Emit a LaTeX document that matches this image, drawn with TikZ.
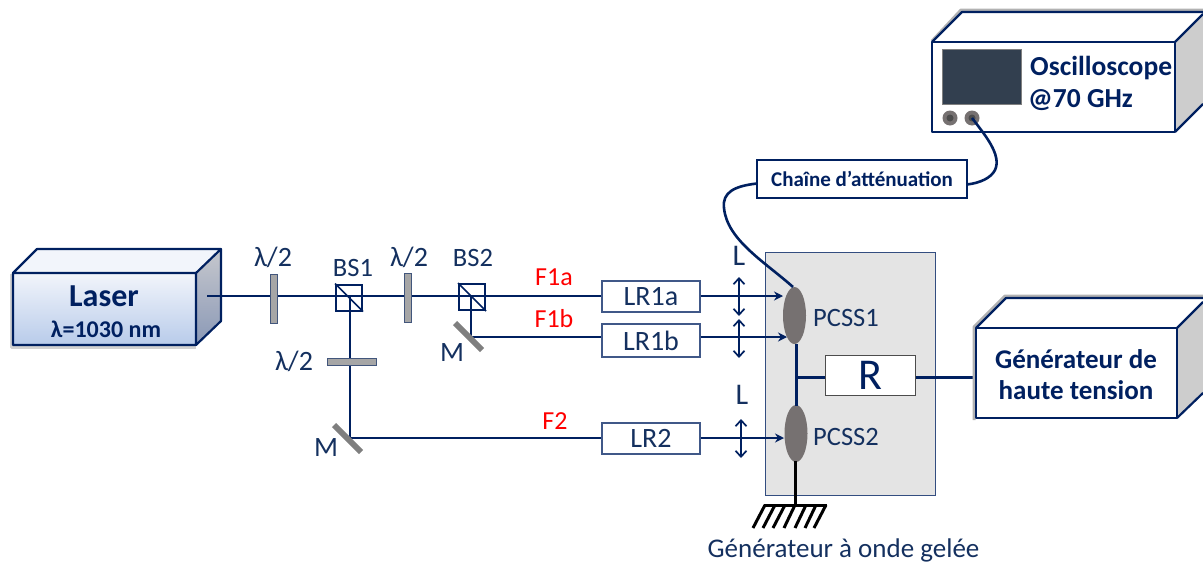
\documentclass[tikz,border=0pt]{standalone}
\usepackage{fontspec}
\setmainfont{Carlito}
\usetikzlibrary{arrows.meta,calc,shapes.geometric}
\definecolor{navy}{HTML}{002060}
\definecolor{txtblue}{HTML}{14305F}
\definecolor{plate}{HTML}{A6A6A6}
\definecolor{mirror}{HTML}{7F7F7F}
\definecolor{pcss}{HTML}{767171}
\definecolor{panel}{HTML}{E4E4E4}
\definecolor{screen}{HTML}{323F4F}
\definecolor{side}{HTML}{CDCDCD}
\definecolor{lasertop}{HTML}{F2F5FB}
\definecolor{laserbot}{HTML}{B8CBEA}
\definecolor{sidetop}{HTML}{C6C8CD}
\definecolor{sidebot}{HTML}{8A98B6}
\tikzset{
  x=1pt,y=-1pt,
  beam/.style={draw=navy,line width=2pt},
  wire/.style={draw=navy,line width=3pt},
  cable/.style={draw=navy,line width=2.6pt},
  gnd/.style={draw=black,line width=3pt},
  lab/.style={text=txtblue,font=\fontsize{26.5}{26.5}\selectfont,inner sep=0pt},
  redlab/.style={text=red,font=\fontsize{26}{26}\selectfont,inner sep=0pt},
  lrbox/.style={draw=navy!75,line width=1.1pt,fill=white,minimum width=98pt,minimum height=31pt,inner sep=0pt,text=txtblue,font=\fontsize{28}{28}\selectfont},
  cube/.style={draw=navy,line width=2pt,minimum size=26pt,inner sep=0pt},
  waveplate/.style={draw=navy!60!plate,line width=.8pt,fill=plate,inner sep=0pt},
  mirrorbar/.style={draw=mirror,line width=6pt},
  boxline/.style={draw=navy,line width=2.2pt,line join=round},
  edgeshadow/.style={draw=black!35,line width=3pt,line join=round},
  bold/.style={text=navy,font=\bfseries\fontsize{27}{27}\selectfont,inner sep=0pt},
  lens/.style={draw=navy,line width=1.7pt,{Straight Barb[length=6pt,width=11pt]}-{Straight Barb[length=6pt,width=11pt]}},
  tohead/.style={-{Stealth[length=9pt,width=9pt]}},
  elli/.style={ellipse,fill=pcss,inner sep=0pt,minimum width=23pt,minimum height=57pt}
}
\begin{document}
\begin{tikzpicture}
\useasboundingbox (0,0) rectangle (1203,565);
% panel
\node[draw=navy!80,line width=.9pt,fill=panel,minimum width=170pt,minimum height=243pt,inner sep=0pt] (panelbox) at (850,373.5) {};
% Laser
\draw[edgeshadow,draw=black!18] (11,274) -- (11,347.5) -- (196,347.5);
\fill[lasertop] (13,273) -- (37,249) -- (221,249) -- (196,273) -- cycle;
\shade[top color=lasertop,bottom color=laserbot] (13,273) rectangle (196,345);
\shade[top color=sidetop,bottom color=sidebot] (196,273) -- (221,249) -- (221,321) -- (196,345) -- cycle;
\draw[boxline] (13,273) rectangle (196,345) (13,273) -- (37,249) -- (221,249) -- (196,273) (221,249) -- (221,321) -- (196,345);
\node[bold,font=\bfseries\fontsize{32}{32}\selectfont] (laser) at (104,296) {Laser};
\node[bold,font=\bfseries\fontsize{24}{24}\selectfont] (lambda) at (106,329) {λ=1030 nm};
% coordinates
\coordinate (laserout) at (207,296);
\coordinate (bs1c) at (350,296);
\coordinate (bs2c) at (471,296);
\coordinate (m1) at (350,438);
\coordinate (m2) at (471,337);
\node[lrbox] (lr1a) at (651,296.5) {LR1a};
\node[lrbox,minimum height=33pt] (lr1b) at (651,340.5) {LR1b};
\node[lrbox] (lr2) at (651,438.5) {LR2};
\node[elli] (p1) at (794.5,315.5) {};
\node[elli] (p2) at (796,433.5) {};
\node[draw=black!70,line width=1pt,fill=white,minimum width=90pt,minimum height=40pt,inner sep=0pt,text=navy,font=\fontsize{44}{44}\selectfont] (R) at (870,375) {R};
% beams
\draw[beam] (laserout) -- (lr1a.west |- laserout);
\draw[beam] (bs1c) -- (m1) -- (lr2.west |- m1);
\draw[beam] (bs2c) -- (m2) -- (lr1b.west |- m2);
\node[waveplate,minimum width=7pt,minimum height=49pt] (hw1) at (273.5,298.5) {};
\node[waveplate,minimum width=7pt,minimum height=49pt] (hw2) at (407.5,297.5) {};
\node[waveplate,minimum width=49pt,minimum height=7pt] (hw3) at (351.5,361.5) {};
\node[cube] (bs1) at (349,297.5) {};
\node[cube] (bs2) at (472,297) {};
\draw[line width=1.7pt,navy] (bs1.north west) -- (bs1.south east);
\draw[line width=1.7pt,navy] (bs2.north west) -- (bs2.south east);
\draw[mirrorbar] (334,425) -- (361,452);
\draw[mirrorbar] (455,323) -- (482,350);
% beams to pcss
\draw[beam,tohead] (lr1a.east |- laserout) -- (783,296);
\draw[beam,tohead] (lr1b.east |- m2) -- (787,337);
\draw[beam,tohead] (lr2.east |- m1) -- (784,438);
% lenses
\coordinate (l1t) at (739,277); \coordinate (l1b) at (739,316);
\coordinate (l2t) at (739,319); \coordinate (l2b) at (739,358);
\coordinate (l3t) at (741,419); \coordinate (l3b) at (741,458);
\draw[lens] (l1t) -- (l1b);
\draw[lens] (l2t) -- (l2b);
\draw[lens] (l3t) -- (l3b);
% electrical
\draw[wire] (796,344) -- (796,406);
\draw[wire] (796,377) -- (R.west |- 0,377);
\draw[wire] (R.east |- 0,377) -- (976,377);
\draw[gnd] (795,461) -- (795,505);
\draw[gnd] (764,505) -- (827,505);
\foreach \xa/\xb in {765/753,775/763,785/773,795/784,806/795,816/805,826/814}{
  \draw[gnd] (\xa,505) -- (\xb,528);
}
% labels
\node[lab,font=\fontsize{28}{28}\selectfont] (t1) at (273,257) {λ/2};
\node[lab] (t2) at (353,268) {BS1};
\node[lab,font=\fontsize{28}{28}\selectfont] (t3) at (409,257) {λ/2};
\node[lab] (t4) at (473,258) {BS2};
\node[lab,font=\fontsize{28}{28}\selectfont] (t5) at (294,361) {λ/2};
\node[lab,font=\fontsize{28}{28}\selectfont] (t6) at (326,448) {M};
\node[lab,font=\fontsize{28}{28}\selectfont] (t7) at (452,353) {M};
\node[redlab] (f1a) at (554,277) {F1a};
\node[redlab] (f1b) at (554,319) {F1b};
\node[redlab] (f2) at (555,421) {F2};
\node[lab,font=\fontsize{30}{30}\selectfont] (l1) at (739,256) {L};
\node[lab,font=\fontsize{30}{30}\selectfont] (l2) at (742,395) {L};
\node[lab] (pc1) at (846,318) {PCSS1};
\node[lab] (pc2) at (846,437) {PCSS2};
\node[lab,font=\fontsize{27}{27}\selectfont] (gen) at (843.5,550) {Générateur à onde gelée};
% HV generator
\draw[edgeshadow,draw=black!30] (974,420) -- (974,327) -- (1005,296) -- (1203,296);
\fill[white] (976,328) -- (1006,298) -- (1203,298) -- (1203,328) -- cycle;
\fill[side] (1177,328) -- (1203,302) -- (1203,393) -- (1177,418) -- cycle;
\draw[boxline] (976,328) -- (1006,298) -- (1203,298);
\draw[boxline] (1177,328) -- (1203,302);
\draw[boxline] (1177,418) -- (1203,393);
\draw[boxline,fill=white] (976,328) rectangle (1177,418);
\node[bold] (hv1) at (1076,359) {Générateur de};
\node[bold] (hv2) at (1076,390) {haute tension};
% Oscilloscope
\draw[edgeshadow,draw=black!30] (932,41) -- (961,10) -- (1203,10);
\fill[white] (932,42) -- (962,12) -- (1203,12) -- (1203,42) -- cycle;
\fill[side] (1175,42) -- (1203,14) -- (1203,104) -- (1175,132) -- cycle;
\draw[boxline] (932,42) -- (962,12) -- (1203,12);
\draw[boxline] (1175,42) -- (1203,14);
\draw[boxline] (1175,132) -- (1203,104);
\draw[boxline,fill=white] (932,42) rectangle (1175,132);
\node[draw=black!50,line width=.5pt,fill=screen,minimum width=79pt,minimum height=55pt,inner sep=0pt] (scr) at (981.5,76.5) {};
\node[circle,fill=pcss,minimum size=15pt,inner sep=0pt] (k1) at (950,118) {};
\node[circle,fill=pcss,minimum size=15pt,inner sep=0pt] (k2) at (972,118) {};
\fill[black!70] (k1) circle (3.5pt);
\fill[black!70] (k2) circle (3.5pt);
\node[bold,font=\bfseries\fontsize{27.5}{27.5}\selectfont,anchor=west] (o1) at (1030,68) {Oscilloscope};
\node[bold,font=\bfseries\fontsize{27.5}{27.5}\selectfont,anchor=west] (o2) at (1028,100) {@70 GHz};
% attenuation
\node[draw=navy,line width=2pt,fill=white,minimum width=210pt,minimum height=38pt,inner sep=0pt,text=navy,font=\bfseries\fontsize{21}{21}\selectfont] (att) at (862,179) {Chaîne d’atténuation};
\coordinate (attR) at (967,184.5);
\coordinate (attL) at (757,183.5);
\draw[cable] (k2.center) .. controls (985,135) and (1002,155) .. (995,170) .. controls (991,178) and (980,183) .. (attR);
\draw[cable] (attL) .. controls (735,186) and (722,192) .. (724,208) .. controls (727,240) and (765,262) .. (793,287);
\end{tikzpicture}
\end{document}
